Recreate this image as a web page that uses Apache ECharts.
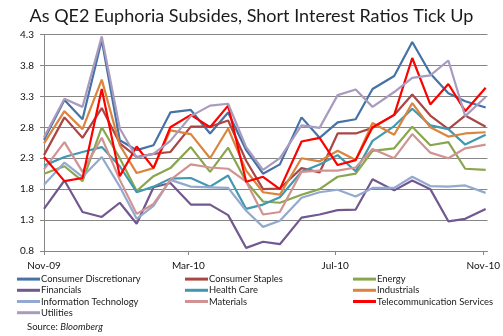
<!DOCTYPE html>
<html>
<head>
<meta charset="utf-8">
<script src="https://cdn.jsdelivr.net/npm/echarts@6/dist/echarts.min.js"></script>
<style>
html,body{margin:0;padding:0;background:#fff;}
#chart{width:503px;height:336px;}
</style>
</head>
<body>
<div id="chart"></div>
<script>
// Short-interest settlement dates (semi-monthly)
const dates = ['2009-11-13','2009-11-30','2009-12-15','2009-12-31','2010-01-15','2010-01-29','2010-02-12','2010-02-26',
  '2010-03-15','2010-03-31','2010-04-15','2010-04-30','2010-05-14','2010-05-28','2010-06-15','2010-06-30',
  '2010-07-15','2010-07-30','2010-08-13','2010-08-31','2010-09-15','2010-09-30','2010-10-15','2010-10-29','2010-11-15'];
const xTickDates = ['2009-11-13','2010-03-13','2010-07-13','2010-11-13'];
const xTickLabels = ['Nov-09','Mar-10','Jul-10','Nov-10'];
const yTicks = [0.8,1.3,1.8,2.3,2.8,3.3,3.8,4.3];

const consumerDiscretionary = [2.60,3.24,2.93,4.21,2.59,2.43,2.51,3.04,3.08,2.70,3.04,2.43,2.05,2.20,2.96,2.63,2.88,2.93,3.42,3.63,4.18,3.67,3.35,3.22,3.12];
const consumerStaples       = [2.35,2.96,2.63,3.11,2.54,2.32,2.37,2.40,2.81,2.81,2.91,2.26,1.80,1.81,2.14,2.07,2.70,2.70,2.79,3.00,3.33,2.99,2.77,2.99,2.81];
const energy                = [2.05,2.17,1.93,2.80,2.30,1.77,2.01,2.14,2.48,2.08,2.47,1.92,1.60,1.58,1.71,1.80,2.00,2.05,2.42,2.46,2.81,2.51,2.56,2.13,2.11];
const financials            = [1.48,1.94,1.43,1.35,1.58,1.24,1.83,1.90,1.55,1.55,1.38,0.85,0.95,0.91,1.34,1.39,1.46,1.47,1.96,1.78,1.94,1.80,1.28,1.32,1.48];
const healthCare            = [2.18,2.32,2.40,2.48,2.17,1.75,1.84,1.97,1.98,1.84,2.02,1.48,1.55,1.67,2.08,2.20,2.35,2.09,2.58,2.82,3.10,2.83,2.77,2.52,2.68];
const industrials           = [2.54,3.06,2.77,3.57,2.51,2.06,2.14,2.75,2.69,2.30,2.78,2.10,1.75,1.71,2.30,2.25,2.42,2.27,2.87,2.68,3.19,2.80,2.65,2.70,2.72];
const informationTechnology = [1.87,2.23,2.00,2.32,1.84,1.32,1.53,1.95,1.84,1.83,1.82,1.45,1.19,1.29,1.66,1.75,1.79,1.68,1.82,1.82,2.00,1.85,1.84,1.86,1.74];
const materials             = [2.12,2.56,2.08,2.63,1.95,1.40,1.56,1.95,2.20,2.15,2.13,1.92,1.39,1.43,2.08,2.10,2.10,2.15,2.45,2.30,2.69,2.39,2.30,2.46,2.52];
const telecomServices       = [2.32,1.93,1.98,3.42,2.01,2.49,2.14,2.80,3.00,2.80,3.15,1.92,2.00,1.80,2.57,2.63,2.19,2.27,2.80,3.00,3.92,3.17,3.50,3.06,3.44];
const utilities             = [2.64,3.26,3.13,4.27,2.78,2.31,2.37,2.58,2.98,3.15,3.18,2.48,2.11,2.30,2.83,2.79,3.32,3.41,3.13,3.37,3.60,3.64,3.88,2.98,3.29];

const seriesNames = ['Consumer Discretionary','Consumer Staples','Energy','Financials','Health Care','Industrials',
  'Information Technology','Materials','Telecommunication Services','Utilities'];
const seriesValues = [consumerDiscretionary,consumerStaples,energy,financials,healthCare,industrials,
  informationTechnology,materials,telecomServices,utilities];
const seriesColors = ['#4572A7','#AA4643','#89A54E','#71588F','#4198AF','#DB843D','#93A9CF','#D19392','#FF0000','#A99BBD'];

// day offset from the first date (linear date scale)
function dayNum(s){ const p = s.split('-').map(Number); return Math.round((Date.UTC(p[0], p[1]-1, p[2]) - Date.UTC(2009, 10, 13)) / 86400000); }
const tickDays = xTickDates.map(dayNum);
const FONT = 'Lato, "Open Sans", sans-serif';

const chart = echarts.init(document.getElementById('chart'), null, {renderer:'canvas'});
const legendBase = {
  orient:'vertical', top: 273.5, itemWidth: 23, itemHeight: 3, itemGap: 0, icon: 'rect', padding: 0,
  textStyle: {fontSize: 9.4, lineHeight: 11.2, color: '#1a1a1a', fontFamily: FONT, padding: [0, 0, 0, -4]}
};
chart.setOption({
  animation: false,
  backgroundColor: '#fff',
  title: {
    text: 'As QE2 Euphoria Subsides, Short Interest Ratios Tick Up',
    left: 'center', top: 2,
    textStyle: {fontSize: 18, fontWeight: 'normal', color: '#1a1a1a', fontFamily: FONT}
  },
  grid: {left: 44, right: 15, top: 34.5, bottom: 85, containLabel: false},
  xAxis: {
    type: 'value',
    min: 0, max: dayNum('2010-11-16') + 0.5,
    axisLine: {show: true, onZero: false, lineStyle: {color: '#868686', width: 1}},
    axisTick: {show: true, length: 4, lineStyle: {color: '#868686'}, customValues: tickDays},
    splitLine: {show: false},
    axisLabel: {
      customValues: tickDays, margin: 10, color: '#111', fontSize: 10, fontFamily: FONT,
      formatter: function(v){ const i = tickDays.indexOf(Math.round(v)); return i >= 0 ? xTickLabels[i] : ''; }
    }
  },
  yAxis: {
    type: 'value', min: yTicks[0], max: yTicks[yTicks.length-1], interval: 0.5,
    axisLine: {show: true, lineStyle: {color: '#868686', width: 1}},
    axisTick: {show: true, length: 4, lineStyle: {color: '#868686'}},
    splitLine: {show: true, lineStyle: {color: '#868686', width: 1}},
    axisLabel: {margin: 10, color: '#111', fontSize: 10, fontFamily: FONT,
      formatter: function(v){ return (Math.round(v*10)/10).toFixed(1); }}
  },
  legend: [
    Object.assign({}, legendBase, {left: 17, data: ['Consumer Discretionary','Financials','Information Technology','Utilities']}),
    Object.assign({}, legendBase, {left: 185, data: ['Consumer Staples','Health Care','Materials']}),
    Object.assign({}, legendBase, {left: 353, data: ['Energy','Industrials','Telecommunication Services']})
  ],
  graphic: [{
    type: 'text', left: 27, top: 322,
    style: {
      text: '{a|Source: }{b|Bloomberg}',
      rich: {
        a: {fontSize: 9.5, fill: '#1a1a1a', fontFamily: FONT},
        b: {fontSize: 9.5, fill: '#1a1a1a', fontStyle: 'italic', fontFamily: FONT}
      }
    }
  }],
  series: seriesNames.map(function(name, k){
    return {
      name: name, type: 'line', showSymbol: false, symbol: 'none', smooth: false,
      color: seriesColors[k],
      lineStyle: {width: 2.2, color: seriesColors[k]},
      data: dates.map(function(d, i){ return [dayNum(d), seriesValues[k][i]]; })
    };
  })
});
</script>
</body>
</html>
